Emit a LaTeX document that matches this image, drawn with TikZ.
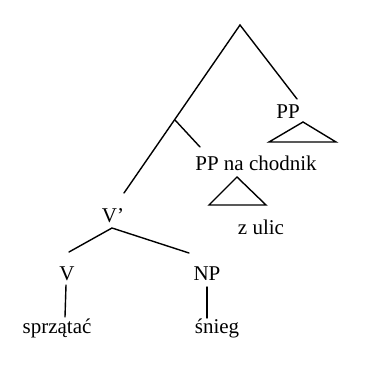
\documentclass[tikz,border=0pt]{standalone}
\usepackage{fontspec}
\setmainfont{Liberation Serif}
\begin{document}
\begin{tikzpicture}[x=1pt,y=-1pt,
  lbl/.style={anchor=base,inner sep=0pt,font=\fontsize{21}{24}\selectfont},
  edge/.style={line width=1.4pt,line cap=round,line join=miter}]
\useasboundingbox (0,0) rectangle (390,369);
% labels
\node[lbl] (pp) at (288,118) {PP};
\node[lbl] (ppna) at (256,170) {PP na chodnik};
\node[lbl] (zulic) at (261,234) {z ulic};
\node[lbl] (vbar) at (113,222) {V’};
\node[lbl] (v) at (67,280) {V};
\node[lbl] (np) at (207,280) {NP};
\node[lbl] (sprz) at (57,333) {sprzątać};
\node[lbl] (snieg) at (217,333) {śnieg};
% branch points and line ends
\coordinate (root) at (240,25);
\coordinate (rootR) at (297,99);
\coordinate (rootL) at (124,193);
\coordinate (mid) at (175,120);
\coordinate (midR) at (200,147);
\coordinate (vbarB) at (112,228);
\coordinate (vT) at (69,252);
\coordinate (npT) at (189,253);
% tree branches
\draw[edge] (rootR) -- (root) -- (rootL);
\draw[edge] (mid) -- (midR);
\draw[edge] (vT) -- (vbarB) -- (npT);
\draw[edge] (66,285) -- (65,317);
\draw[edge] (207,287) -- (207,318);
% roof triangles
\draw[edge] (303,122) -- (269,142) -- (336,142) -- cycle;
\draw[edge] (237,177) -- (209,205) -- (266,205) -- cycle;
\end{tikzpicture}
\end{document}
